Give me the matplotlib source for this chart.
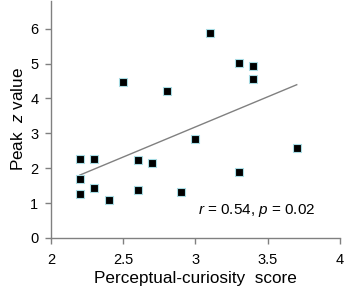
import matplotlib
matplotlib.use("Agg")
import matplotlib.pyplot as plt
import numpy as np

plt.rcParams['font.family'] = ['Liberation Sans', 'DejaVu Sans']
plt.rcParams['mathtext.fontset'] = 'custom'
plt.rcParams['mathtext.rm'] = 'Liberation Sans'
plt.rcParams['mathtext.it'] = 'Liberation Sans:italic'

curiosity = [2.2, 2.2, 2.2, 2.3, 2.3, 2.4, 2.5, 2.6, 2.6, 2.7, 2.8, 2.9, 3.0, 3.1, 3.3, 3.3, 3.4, 3.4, 3.7]
peak_z = [2.25, 1.69, 1.27, 2.25, 1.44, 1.10, 4.47, 2.23, 1.37, 2.16, 4.22, 1.31, 2.83, 5.88, 5.01, 1.88, 4.92, 4.56, 2.57]
xticks = [2, 2.5, 3, 3.5, 4]
xticklabels = ['2', '2.5', '3', '3.5', '4']
yticks = [0, 1, 2, 3, 4, 5, 6]

fig = plt.figure(figsize=(3.46, 2.88), dpi=100)
ax = fig.add_axes([0.147, 0.174, 0.836, 0.823])

x = np.array(curiosity)
y = np.array(peak_z)
slope, intercept = np.polyfit(x, y, 1)
xl = np.array([x.min(), x.max()])
ax.plot(xl, slope * xl + intercept, color='#808080', lw=1.0, zorder=2)

ax.plot(x, y, linestyle='none', marker='s', markersize=5.4, markerfacecolor='black',
        markeredgecolor='#a8dce4', markeredgewidth=0.8, zorder=3)

ax.set_xlim(2, 4)
ax.set_ylim(0, 6.8)
ax.set_xticks(xticks)
ax.set_xticklabels(xticklabels)
ax.set_yticks(yticks)
for s in ['top', 'right']:
    ax.spines[s].set_visible(False)
for s in ['left', 'bottom']:
    ax.spines[s].set_color('#808080')
    ax.spines[s].set_linewidth(1.0)
ax.tick_params(axis='both', colors='#808080', labelcolor='black', labelsize=10.5, length=4, width=1.0)
ax.tick_params(axis='x', pad=7)
ax.tick_params(axis='y', pad=5)

ax.set_xlabel('Perceptual-curiosity  score', fontsize=12.3, labelpad=3)
ax.set_ylabel('Peak  $\\it{z}$ value', fontsize=12.3, labelpad=3)
ax.text(3.42, 0.8, '$\\it{r}$ = 0.54, $\\it{p}$ = 0.02', fontsize=11, ha='center', va='center')

fig.savefig('out.png', dpi=100)
